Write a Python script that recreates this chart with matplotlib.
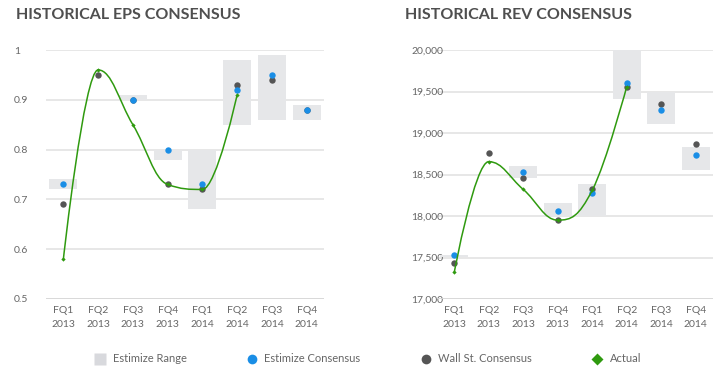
import matplotlib
matplotlib.use('Agg')
import matplotlib.pyplot as plt
import numpy as np
from matplotlib.path import Path
from matplotlib.patches import PathPatch
from matplotlib.lines import Line2D

plt.rcParams['font.family'] = ['Lato', 'DejaVu Sans']

# Категорії
quarters = ['FQ1\n2013', 'FQ2\n2013', 'FQ3\n2013', 'FQ4\n2013',
            'FQ1\n2014', 'FQ2\n2014', 'FQ3\n2014', 'FQ4\n2014']

# EPS
eps_range_low = [0.72, np.nan, 0.90, 0.78, 0.68, 0.85, 0.86, 0.86]
eps_range_high = [0.74, np.nan, 0.91, 0.80, 0.80, 0.98, 0.99, 0.89]
eps_estimize = [0.73, np.nan, 0.90, 0.80, 0.73, 0.92, 0.95, 0.88]
eps_wallst = [0.69, 0.95, 0.90, 0.73, 0.72, 0.93, 0.94, 0.88]
eps_actual = [0.58, 0.96, 0.85, 0.73, 0.72, 0.91]

# Revenue
rev_range_low = [17510, np.nan, 18460, 18000, 18000, 19410, 19110, 18560]
rev_range_high = [17530, np.nan, 18600, 18160, 18390, 20000, 19490, 18830]
rev_estimize = [17525, np.nan, 18525, 18065, 18280, 19600, 19280, 18730]
rev_wallst = [17435, 18765, 18460, 17950, 18320, 19550, 19345, 18865]
rev_actual = [17320, 18655, 18320, 17950, 18310, 19560]

eps_ticks = [0.5, 0.6, 0.7, 0.8, 0.9, 1]
eps_ticklabels = ['0.5', '0.6', '0.7', '0.8', '0.9', '1']
rev_ticks = [17000, 17500, 18000, 18500, 19000, 19500, 20000]
rev_ticklabels = ['17,000', '17,500', '18,000', '18,500', '19,000', '19,500', '20,000']

RANGE_C = '#e6e7e9'
BLUE = '#1a8ee6'
DARK = '#555555'
GREEN = '#2f9a0f'
TEXT = '#666666'


# Згладжена лінія як у Highcharts spline
def spline_path(xs, ys, smoothing=1.5):
    n = len(xs)
    denom = smoothing + 1
    rc = [(xs[i], ys[i]) for i in range(n)]
    lc = [(xs[i], ys[i]) for i in range(n)]
    for i in range(1, n - 1):
        px, py = xs[i], ys[i]
        lx, ly = xs[i - 1], ys[i - 1]
        nx, ny = xs[i + 1], ys[i + 1]
        lcx = (smoothing * px + lx) / denom
        lcy = (smoothing * py + ly) / denom
        rcx = (smoothing * px + nx) / denom
        rcy = (smoothing * py + ny) / denom
        corr = 0
        if rcx != lcx:
            corr = (rcy - lcy) * (rcx - px) / (rcx - lcx) + py - rcy
        lcy += corr
        rcy += corr
        if lcy > ly and lcy > py:
            lcy = max(ly, py)
            rcy = 2 * py - lcy
        elif lcy < ly and lcy < py:
            lcy = min(ly, py)
            rcy = 2 * py - lcy
        if rcy > ny and rcy > py:
            rcy = max(ny, py)
            lcy = 2 * py - rcy
        elif rcy < ny and rcy < py:
            rcy = min(ny, py)
            lcy = 2 * py - rcy
        lc[i] = (lcx, lcy)
        rc[i] = (rcx, rcy)
    verts = [(xs[0], ys[0])]
    codes = [Path.MOVETO]
    for i in range(1, n):
        verts += [rc[i - 1], lc[i], (xs[i], ys[i])]
        codes += [Path.CURVE4] * 3
    return Path(verts, codes)


def draw_panel(ax, low, high, est, wall, actual, ticks, ticklabels, ylim, ypad):
    x = np.arange(len(quarters))
    low = np.array(low, dtype=float)
    high = np.array(high, dtype=float)
    ok = ~np.isnan(low)
    ax.bar(x[ok], high[ok] - low[ok], bottom=low[ok], width=0.8,
           color=RANGE_C, zorder=2)
    ax.plot(x, wall, 'o', color=DARK, markersize=4.6, markeredgewidth=0, zorder=3)
    ax.plot(x, est, 'o', color=BLUE, markersize=4.6, markeredgewidth=0, zorder=4)
    xa = np.arange(len(actual))
    path = spline_path(list(xa.astype(float)), list(actual))
    ax.add_patch(PathPatch(path, facecolor='none', edgecolor=GREEN, lw=1.1, zorder=5))
    ax.plot(xa, actual, 'D', color=GREEN, markersize=2.2, markeredgewidth=0, zorder=6)

    ax.set_xlim(-0.5, len(quarters) - 0.5)
    ax.set_ylim(*ylim)
    ax.set_yticks(ticks)
    ax.set_yticklabels(ticklabels, ha='left')
    ax.set_xticks(x)
    ax.set_xticklabels(quarters, linespacing=1.7)
    ax.tick_params(axis='y', length=0, colors=TEXT, labelsize=7.5, pad=ypad)
    ax.tick_params(axis='x', length=0, colors=TEXT, labelsize=7.5, pad=5)
    ax.grid(axis='y', color='#e3e3e3', lw=1.2, zorder=0)
    ax.set_axisbelow(True)
    for s in ax.spines.values():
        s.set_visible(False)
    ax.axhline(ylim[0], color='#d8d8d8', lw=1.3, zorder=1)


fig = plt.figure(figsize=(7.2, 3.79), dpi=100)
ax1 = fig.add_axes([46 / 720, 1 - 299 / 379, 278 / 720, 249 / 379])
ax2 = fig.add_axes([437 / 720, 1 - 299 / 379, 276 / 720, 249 / 379])

draw_panel(ax1, eps_range_low, eps_range_high, eps_estimize, eps_wallst, eps_actual,
           eps_ticks, eps_ticklabels, (0.5, 1.0), 23)
draw_panel(ax2, rev_range_low, rev_range_high, rev_estimize, rev_wallst, rev_actual,
           rev_ticks, rev_ticklabels, (17000, 20000), 18.5)

fig.text(16 / 720, 1 - 15 / 379, 'HISTORICAL EPS CONSENSUS', fontsize=11.5,
         fontweight='bold', color='#4f4f4f', va='center', ha='left')
fig.text(405 / 720, 1 - 15 / 379, 'HISTORICAL REV CONSENSUS', fontsize=11.5,
         fontweight='bold', color='#4f4f4f', va='center', ha='left')

handles = [
    Line2D([], [], marker='s', color='none', markerfacecolor='#d8d9dd',
           markeredgecolor='none', markersize=8),
    Line2D([], [], marker='o', color='none', markerfacecolor=BLUE,
           markeredgecolor='none', markersize=7),
    Line2D([], [], marker='o', color='none', markerfacecolor=DARK,
           markeredgecolor='none', markersize=7),
    Line2D([], [], marker='D', color='none', markerfacecolor=GREEN,
           markeredgecolor='none', markersize=6),
]
labels = ['Estimize Range', 'Estimize Consensus', 'Wall St. Consensus', 'Actual']
fig.legend(handles, labels, loc='center', bbox_to_anchor=(0.511, 1 - 359 / 379),
           ncol=4, frameon=False, fontsize=8, handlelength=1.0,
           handletextpad=0.6, columnspacing=5.4, labelcolor=TEXT)

fig.savefig('out.png', dpi=100)
